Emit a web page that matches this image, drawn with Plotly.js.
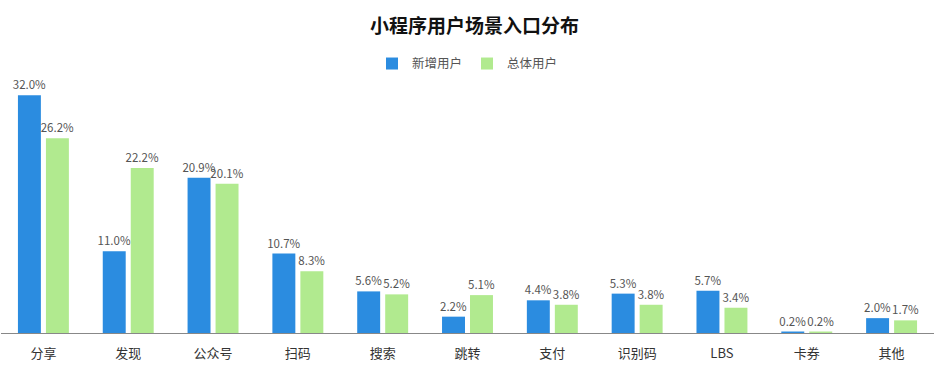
<!DOCTYPE html>
<html><head><meta charset="utf-8">
<script src="https://cdn.plot.ly/plotly-3.0.1.min.js"></script>
<style>body{margin:0;background:#fff}#c{width:949px;height:371px}</style>
</head><body><div id="c"></div>
<script>
const categories = ['分享','发现','公众号','扫码','搜索','跳转','支付','识别码','LBS','卡券','其他'];
const newUsers = [32.0, 11.0, 20.9, 10.7, 5.6, 2.2, 4.4, 5.3, 5.7, 0.2, 2.0];
const allUsers = [26.2, 22.2, 20.1, 8.3, 5.2, 5.1, 3.8, 3.8, 3.4, 0.2, 1.7];
const seriesNames = ['新增用户','总体用户'];
const font = '"Noto Sans CJK SC", "Noto Sans", sans-serif';
const mk = (y, name, color) => ({
  type:'bar', x:categories, y:y, name:name,
  marker:{color:color},
  text:y.map(v=>v.toFixed(1)+'%'), textposition:'outside', cliponaxis:false, constraintext:'none',
  textfont:{size:11.5, color:'#555', family:font},
  hoverinfo:'skip'
});
Plotly.newPlot('c', [mk(newUsers, seriesNames[0], '#2b8ce0'), mk(allUsers, seriesNames[1], '#b1ea8f')], {
  width:949, height:371,
  margin:{l:1, r:15, t:73, b:38},
  paper_bgcolor:'#fff', plot_bgcolor:'#fff',
  title:{text:'<b>小程序用户场景入口分布</b>', x:0.5, xanchor:'center', y:0.93, yanchor:'middle', font:{size:19, color:'#111', family:font}},
  legend:{orientation:'h', x:0.5, xanchor:'center', y:1.035, yanchor:'middle', font:{size:12.5, color:'#555', family:font}, itemwidth:30, traceorder:'normal'},
  barmode:'group', bargap:0.34, bargroupgap:0.18,
  xaxis:{showline:true, linecolor:'#888', linewidth:1, ticks:'', ticklabelstandoff:8, tickfont:{size:13, color:'#333', family:font}, showgrid:false},
  yaxis:{range:[0,35], visible:false, showgrid:false, zeroline:false},
  font:{family:font}
}, {displayModeBar:false, staticPlot:true});
</script></body></html>
